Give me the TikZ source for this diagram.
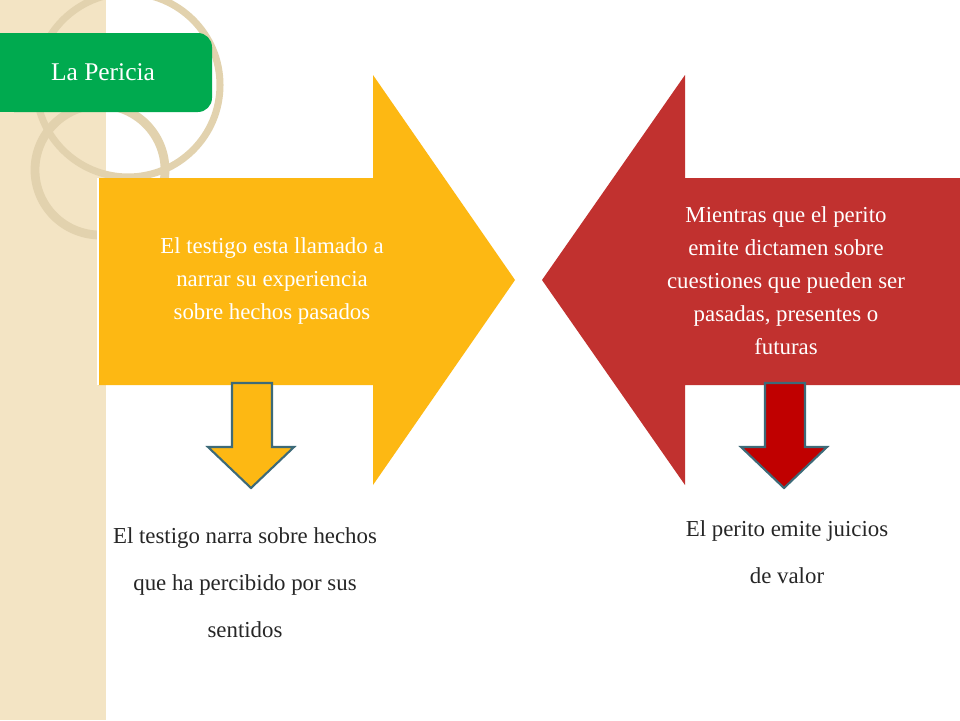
\documentclass[tikz,border=0pt]{standalone}
\usepackage{fontspec}
\setmainfont{Liberation Serif}
\definecolor{strip}{HTML}{F3E4C4}
\definecolor{ring}{HTML}{E2D2AE}
\definecolor{tabgreen}{HTML}{00AA4F}
\definecolor{arrowyellow}{HTML}{FDB813}
\definecolor{arrowred}{HTML}{C1312F}
\definecolor{darkred}{HTML}{C00000}
\definecolor{edgeteal}{HTML}{3D6A78}
\tikzset{
  bigtext/.style={text=white,align=center,font=\fontsize{13}{18.8}\selectfont},
  lowtext/.style={text=black!85,align=center,font=\fontsize{13}{26.7}\selectfont},
  downarrow/.style={draw=edgeteal,line width=1.2pt}
}
\begin{document}
\begin{tikzpicture}[x=0.02cm,y=-0.02cm]
\useasboundingbox (0,0) rectangle (960,720);
\fill[white] (0,0) rectangle (960,720);
% background strip
\fill[strip] (0,0) rectangle (106,720);
\draw[ring,line width=4pt] (128,85) circle (92);
\draw[ring,line width=5pt] (100,170) circle (65);
% title tab
\fill[tabgreen,rounded corners=8pt] (0,33) -- (212,33) -- (212,112) -- (0,112) -- cycle;
\fill[tabgreen] (0,33) rectangle (20,112);
\node[text=white,font=\fontsize{14.5}{17}\selectfont] (title) at (103,72) {La Pericia};
% big arrows
\fill[arrowyellow] (98,178) -- (373,178) -- (373,75) -- (515,280) -- (373,485) -- (373,385) -- (98,385) -- cycle;
\draw[white,line width=1.5pt] (98,178) -- (98,385);
\fill[arrowred] (960,178) -- (685,178) -- (685,75) -- (542,280) -- (685,485) -- (685,385) -- (960,385) -- cycle;
\node[bigtext] (testigo) at (272,281) {El testigo esta llamado a\\narrar su experiencia\\sobre hechos pasados};
\node[bigtext] (perito) at (786,281) {Mientras que el perito\\emite dictamen sobre\\cuestiones que pueden ser\\pasadas, presentes o\\futuras};
% small arrows
\draw[downarrow,fill=arrowyellow] (232,383) -- (272,383) -- (272,447) -- (294,447) -- (251,488) -- (208,447) -- (232,447) -- cycle;
\draw[downarrow,fill=darkred] (765,383) -- (805,383) -- (805,447) -- (827,447) -- (784,488) -- (741,447) -- (765,447) -- cycle;
\node[lowtext] (hechos) at (245,583) {El testigo narra sobre hechos\\que ha percibido por sus\\sentidos};
\node[lowtext] (juicios) at (787,552) {El perito emite juicios\\de valor};
\end{tikzpicture}
\end{document}
